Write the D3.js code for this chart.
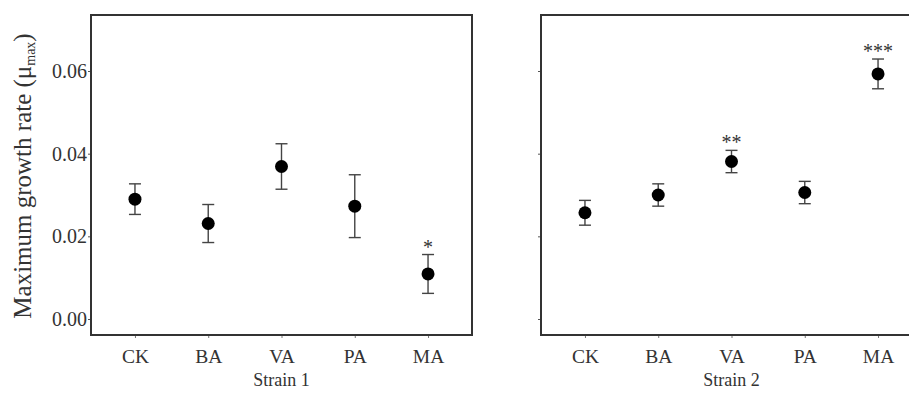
<!DOCTYPE html>
<html>
<head>
  <title>Maximum growth rate by strain</title>
  <script src="https://d3js.org/d3.v7.min.js"></script>
  <style>
    body { margin: 0; background: #fff; }
    text { font-family: "Liberation Serif", "Times New Roman", serif; fill: #333; }
  </style>
</head>
<body>

<div id="chart"></div>

<script>
// Data
const treatments = ["CK", "BA", "VA", "PA", "MA"];
const strain1Mean = [0.0290, 0.0231, 0.0369, 0.0273, 0.0109];
const strain1Err  = [0.0037, 0.0046, 0.0055, 0.0076, 0.0047];
const strain1Sig  = ["", "", "", "", "*"];
const strain2Mean = [0.0257, 0.0300, 0.0381, 0.0306, 0.0593];
const strain2Err  = [0.0030, 0.0027, 0.0027, 0.0027, 0.0036];
const strain2Sig  = ["", "", "**", "", "***"];
const yTicks = [0, 0.02, 0.04, 0.06];
const panelTitles = ["Strain 1", "Strain 2"];

const W = 909, H = 394;
const panelTop = 15, panelBottom = 335;
const panelLefts = [91, 541];
const panelWidth = 381;

const svg = d3.select("#chart")
  .append("svg")
  .attr("width", W)
  .attr("height", H);

const y = d3.scaleLinear()
  .domain([-0.00387, 0.07355])
  .range([panelBottom, panelTop]);

const panels = [
  { mean: strain1Mean, err: strain1Err, sig: strain1Sig, title: panelTitles[0], labels: true },
  { mean: strain2Mean, err: strain2Err, sig: strain2Sig, title: panelTitles[1], labels: false }
];

panels.forEach((p, i) => {
  const left = panelLefts[i];
  const g = svg.append("g").attr("transform", `translate(${left},0)`);

  const x = d3.scalePoint()
    .domain(treatments)
    .range([0, panelWidth])
    .padding(0.6);

  const rows = treatments.map((t, j) => ({ t, m: p.mean[j], e: p.err[j], s: p.sig[j] }));

  // y axis
  const yAxis = g.append("g")
    .call(d3.axisLeft(y).tickValues(yTicks).tickSize(3).tickPadding(1)
      .tickFormat(p.labels ? d3.format(".2f") : ""));
  yAxis.select(".domain").remove();
  yAxis.selectAll("line").attr("stroke", "#555");
  yAxis.selectAll("text").attr("font-size", 20).attr("fill", "#333");

  // x axis
  const xAxis = g.append("g")
    .attr("transform", `translate(0,${panelBottom})`)
    .call(d3.axisBottom(x).tickSize(3).tickPadding(11));
  xAxis.select(".domain").remove();
  xAxis.selectAll("line").attr("stroke", "#777");
  xAxis.selectAll("text").attr("font-size", 19.5).attr("fill", "#333");

  // frame
  g.append("rect")
    .attr("x", 0)
    .attr("y", panelTop)
    .attr("width", panelWidth)
    .attr("height", panelBottom - panelTop)
    .attr("fill", "none")
    .attr("stroke", "#333")
    .attr("stroke-width", 2);

  // error bars
  const eb = g.selectAll(".eb").data(rows).enter().append("g")
    .attr("stroke", "#444").attr("stroke-width", 1.4);
  eb.append("line")
    .attr("x1", d => x(d.t)).attr("x2", d => x(d.t))
    .attr("y1", d => y(d.m - d.e)).attr("y2", d => y(d.m + d.e));
  eb.append("line")
    .attr("x1", d => x(d.t) - 6).attr("x2", d => x(d.t) + 6)
    .attr("y1", d => y(d.m + d.e)).attr("y2", d => y(d.m + d.e));
  eb.append("line")
    .attr("x1", d => x(d.t) - 6).attr("x2", d => x(d.t) + 6)
    .attr("y1", d => y(d.m - d.e)).attr("y2", d => y(d.m - d.e));

  // points
  g.selectAll("circle").data(rows).enter().append("circle")
    .attr("cx", d => x(d.t))
    .attr("cy", d => y(d.m))
    .attr("r", 6.5)
    .attr("fill", "#000");

  // significance stars
  g.selectAll(".sig").data(rows.filter(d => d.s)).enter().append("text")
    .attr("x", d => x(d.t))
    .attr("y", d => y(d.m + d.e) - 1)
    .attr("text-anchor", "middle")
    .attr("font-size", 20)
    .attr("fill", "#555")
    .text(d => d.s);

  // panel title
  g.append("text")
    .attr("x", panelWidth / 2)
    .attr("y", 386)
    .attr("text-anchor", "middle")
    .attr("font-size", 18)
    .text(p.title);
});

// y label
const yl = svg.append("text")
  .attr("transform", "translate(31,176) rotate(-90)")
  .attr("text-anchor", "middle")
  .attr("font-size", 25)
  .attr("fill", "#444");
yl.append("tspan").text("Maximum growth rate (μ");
yl.append("tspan").attr("font-size", 14).attr("dy", 4).text("max");
yl.append("tspan").attr("dy", -4).text(")");
</script>

</body>
</html>
